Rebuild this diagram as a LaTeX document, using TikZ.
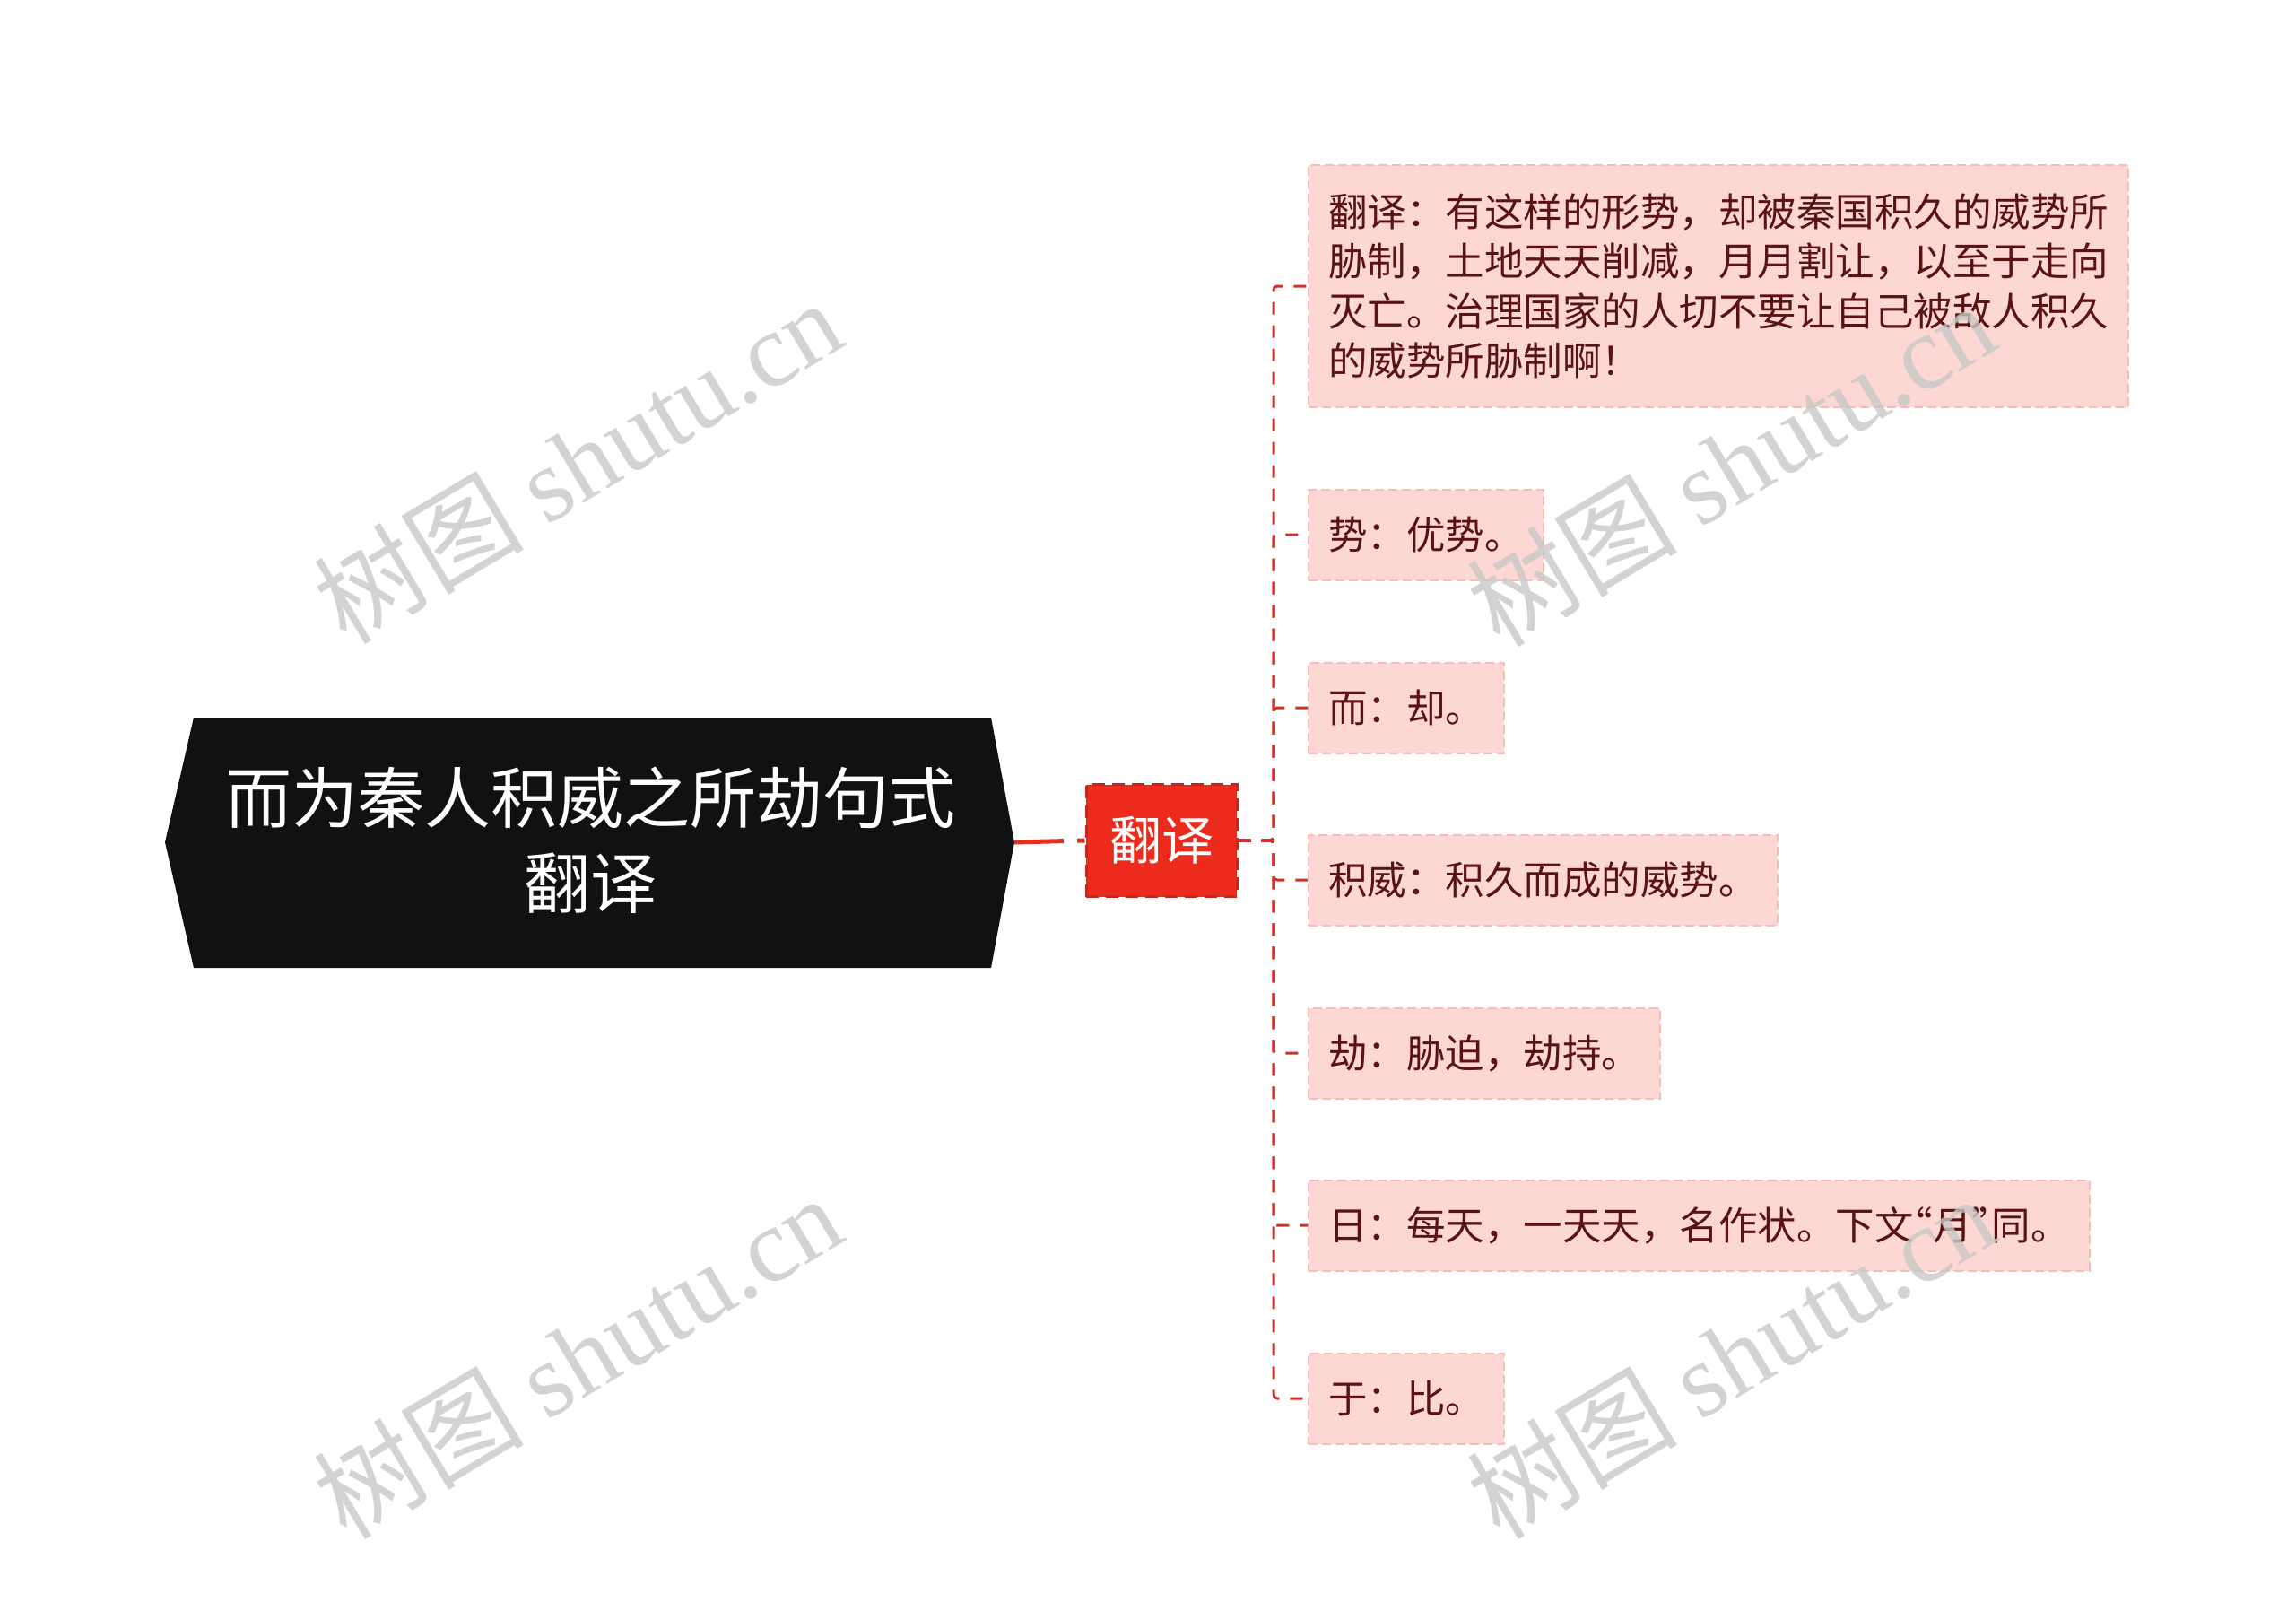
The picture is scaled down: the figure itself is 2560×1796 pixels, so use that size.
\documentclass[tikz,border=0pt]{standalone}
\usepackage{fontspec}
\setmainfont{Noto Sans CJK SC}
\newfontfamily\wmlatin{Liberation Serif}
\definecolor{rootfill}{HTML}{111111}
\definecolor{midred}{HTML}{EC2B1C}
\definecolor{midborder}{HTML}{C8261B}
\definecolor{linkred}{HTML}{D0302A}
\definecolor{rootlink}{HTML}{E0301E}
\definecolor{leaffill}{HTML}{FCD7D4}
\definecolor{leafborder}{HTML}{F4BDB8}
\definecolor{leaftext}{HTML}{5A1212}
\definecolor{wmgray}{HTML}{C8C8C8}
\newcommand{\myopenq}{\makebox[0.5em][r]{“}}
\newcommand{\mycloseq}{\makebox[0.5em][l]{”}}
\tikzset{
  leaf/.style={draw=leafborder, line width=2pt, dash pattern=on 10pt off 5pt, fill=leaffill,
    text=leaftext, font=\fontsize{43.5}{55.5}\selectfont, inner xsep=22pt, inner ysep=0pt,
    minimum height=101pt, anchor=west, align=left},
  midbox/.style={draw=midborder, line width=3pt, dash pattern=on 14pt off 8pt, fill=midred,
    text=white, font=\fontsize{58}{70}\selectfont, minimum width=168pt, minimum height=125pt, inner sep=0pt},
  rootbox/.style={text=white, font=\fontsize{74}{95}\selectfont, align=center, inner sep=0pt},
  conn/.style={draw=linkred, line width=3pt, dash pattern=on 14pt off 12pt, rounded corners=4pt},
  rootconn/.style={draw=rootlink, line width=5pt, dash pattern=on 55pt off 15pt},
  wmark/.style={text=wmgray, opacity=0.8, rotate=31, font=\fontsize{117}{125}\selectfont, inner sep=0pt}
}
\begin{document}
\begin{tikzpicture}[x=1pt,y=-1pt]
\useasboundingbox (0,0) rectangle (2560,1796);
\fill[white] (0,0) rectangle (2560,1796);
% root
\fill[rootfill] (184,939) -- (216,800) -- (1105,800) -- (1131,939) -- (1105,1079) -- (216,1079) -- cycle;
\coordinate (rootR) at (1131,939);
\node[rootbox] (root) at (658,937) {而为秦人积威之所劫句式\\翻译};
% middle
\node[midbox] (mid) at (1295,937) {翻译};
\coordinate (trunk) at (1420,937);
% leaves
\node[leaf, minimum height=270pt] (c1) at (1458,319) {翻译：有这样的形势，却被秦国积久的威势所\\胁制，土地天天削减，月月割让，以至于走向\\灭亡。治理国家的人切不要让自己被敌人积久\\的威势所胁制啊！};
\node[leaf] (c2) at (1458,596) {势：优势。};
\node[leaf] (c3) at (1458,789) {而：却。};
\node[leaf] (c4) at (1458,981) {积威：积久而成的威势。};
\node[leaf] (c5) at (1458,1174) {劫：胁迫，劫持。};
\node[leaf] (c6) at (1458,1366) {日：每天，一天天，名作状。下文\myopenq 月\mycloseq 同。};
\node[leaf] (c7) at (1458,1559) {于：比。};
% connectors
\draw[rootconn] (rootR) -- (mid.west);
\foreach \c in {c1,c2,c3,c4,c5,c6,c7}{
  \draw[conn] (mid.east) -- (trunk) |- (\c.west);
}
% watermarks
\node[wmark] (w1) at (644,514) {树图 {\wmlatin shutu.cn}};
\node[wmark] (w2) at (644,1512) {树图 {\wmlatin shutu.cn}};
\node[wmark] (w3) at (1930,517) {树图 {\wmlatin shutu.cn}};
\node[wmark] (w4) at (1930,1512) {树图 {\wmlatin shutu.cn}};
\end{tikzpicture}
\end{document}
